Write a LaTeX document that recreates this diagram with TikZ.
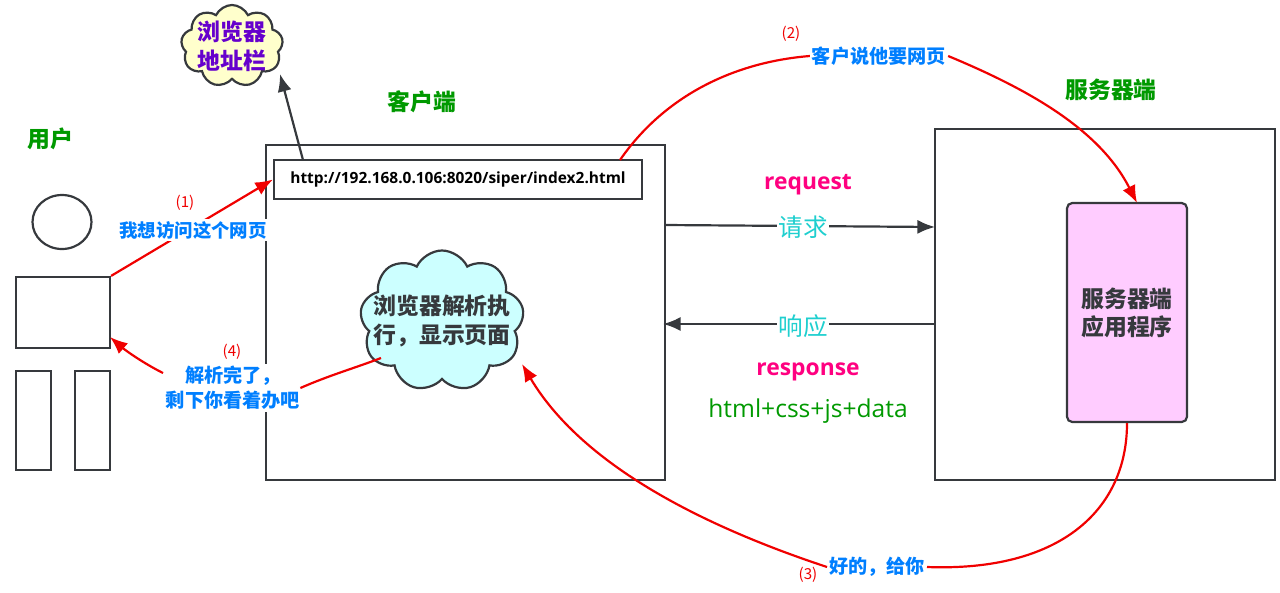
\documentclass[tikz,border=0pt]{standalone}
\usepackage{fontspec}
\setmainfont{Noto Sans CJK SC}
\newfontfamily\latinfont{Open Sans}
\usetikzlibrary{arrows.meta,shapes.symbols,shapes.geometric}
\definecolor{linegray}{HTML}{36393D}
\definecolor{titlegreen}{HTML}{009900}
\definecolor{sayblue}{HTML}{007FFF}
\definecolor{wordcyan}{HTML}{1FCFCF}
\definecolor{wordpink}{HTML}{FF0080}
\definecolor{redline}{HTML}{F00000}
\definecolor{cloudyellow}{HTML}{FFFFCC}
\definecolor{cloudcyan}{HTML}{CCFFFF}
\definecolor{apppink}{HTML}{FFCCFF}
\definecolor{cloudtext}{HTML}{6600CC}
\begin{document}
\begin{tikzpicture}
[x=.02cm,y=-.02cm,
every node/.style={inner sep=1pt},
box/.style={draw=linegray,line width=1.25pt},
title/.style={text=titlegreen,font=\fontsize{13}{16}\selectfont\bfseries},
say/.style={fill=white,text=sayblue,align=center,font=\fontsize{10.9}{14.3}\selectfont\bfseries},
step no/.style={text=redline,font=\fontsize{8.6}{10}\selectfont},
word/.style={fill=white,text=wordcyan,font=\fontsize{14}{16}\selectfont},
eng/.style={text=wordpink,font=\latinfont\fontsize{13}{16}\selectfont\bfseries},
puff/.style={cloud,cloud puffs=9,cloud puff arc=130,cloud ignores aspect,draw=linegray,line width=1.25pt},
blackline/.style={draw=linegray,line width=1.25pt,-{Latex[length=10pt,width=8pt]}},
redarrow/.style={draw=redline,line width=1.25pt,-{Latex[length=10pt,width=8pt]}},
redplain/.style={draw=redline,line width=1.25pt}]
\useasboundingbox (0,0) rectangle (1280,592);
% user
\node[box,ellipse,minimum width=59*.02cm,minimum height=54*.02cm] (head) at (62,222) {};
\node[box,minimum width=94*.02cm,minimum height=71*.02cm] (body) at (63,312.5) {};
\foreach \name/\xpos in {legl/33.5,legr/92.5}
\node[box,minimum width=35*.02cm,minimum height=99*.02cm] (\name) at (\xpos,420.5) {};
\node[title] (usertitle) at (50,139) {用户};
% client
\node[box,minimum width=399*.02cm,minimum height=335*.02cm] (client) at (465.5,312.5) {};
\node[box,minimum width=368*.02cm,minimum height=39*.02cm,font=\latinfont\fontsize{8.8}{10}\selectfont\bfseries] (url) at (458,179.5) {http://192.168.0.106:8020/siper/index2.html};
\node[title] (clienttitle) at (422,102) {客户端};
\node[puff,fill=cloudyellow,minimum width=102*.02cm,minimum height=82*.02cm,label={[align=center,text=cloudtext,font=\fontsize{13}{16.5}\selectfont\bfseries]center:浏览器\\地址栏}] (addrcloud) at (232,46) {};
\node[puff,fill=cloudcyan,minimum width=164*.02cm,minimum height=141*.02cm,label={[align=center,text=linegray,font=\fontsize{13}{16.5}\selectfont\bfseries]center:浏览器解析执\\行，显示页面}] (parsecloud) at (442,321) {};
% server
\node[box,minimum width=340*.02cm,minimum height=351*.02cm] (server) at (1105,304.5) {};
\node[box,rounded corners=3pt,fill=apppink,align=center,minimum width=120*.02cm,minimum height=219*.02cm,text=linegray,font=\fontsize{13}{16}\selectfont\bfseries] (app) at (1127,312.5) {服务器端\\应用程序};
\node[title] (servertitle) at (1111,90) {服务器端};
% request and response
\coordinate (reqa) at (665,225);
\coordinate (reqb) at (935,227);
\coordinate (resa) at (935,324);
\coordinate (resb) at (663,324);
\draw[blackline] (reqa) -- (reqb);
\draw[blackline] (resa) -- (resb);
\node[word] (reqword) at (803,227) {请求};
\node[word] (resword) at (803,326) {响应};
\node[eng] (request) at (808,185) {request};
\node[eng] (response) at (808,372) {response};
\node[text=titlegreen,font=\latinfont\fontsize{14}{16}\selectfont] (payload) at (808,411) {html+css+js+data};
\coordinate (urlout) at (303,160);
\coordinate (addrtip) at (280,74);
\draw[blackline] (urlout) -- (addrtip);
% red steps
\coordinate (urlred) at (620,160);
\coordinate (bodyred) at (110,337);
\coordinate (parseout) at (381,358);
\coordinate (parsein) at (522,364);
\coordinate (sayleft) at (163,373);
\draw[redarrow] (body.north east) -- (url.west);
\node[say,font=\fontsize{10.5}{14}\selectfont\bfseries] (say1) at (193,230) {我想访问这个网页};
\node[say] (say2) at (879,56) {客户说他要网页};
\node[say] (say3) at (877,567) {好的，给你};
\node[say,inner xsep=0pt] (say4) at (233,388) {解析完了，\\剩下你看着办吧};
\draw[redplain] (urlred) .. controls (665,95) and (735,62) .. (say2.west);
\draw[redarrow] (say2.east) .. controls (1030,90) and (1100,130) .. (1137,203);
\draw[redplain] (app.south) .. controls (1127,510) and (1060,572) .. (say3.east);
\draw[redarrow] (say3.west) .. controls (715,530) and (585,470) .. (parsein);
\draw[redplain] (parseout) .. controls (355,368) and (330,375) .. (say4.east);
\draw[redarrow] (sayleft) .. controls (143,363) and (125,350) .. (bodyred);
\node[step no] (no1) at (185,203) {(1)};
\node[step no] (no2) at (791,34) {(2)};
\node[step no] (no3) at (808,575) {(3)};
\node[step no] (no4) at (232,352) {(4)};
\end{tikzpicture}
\end{document}
